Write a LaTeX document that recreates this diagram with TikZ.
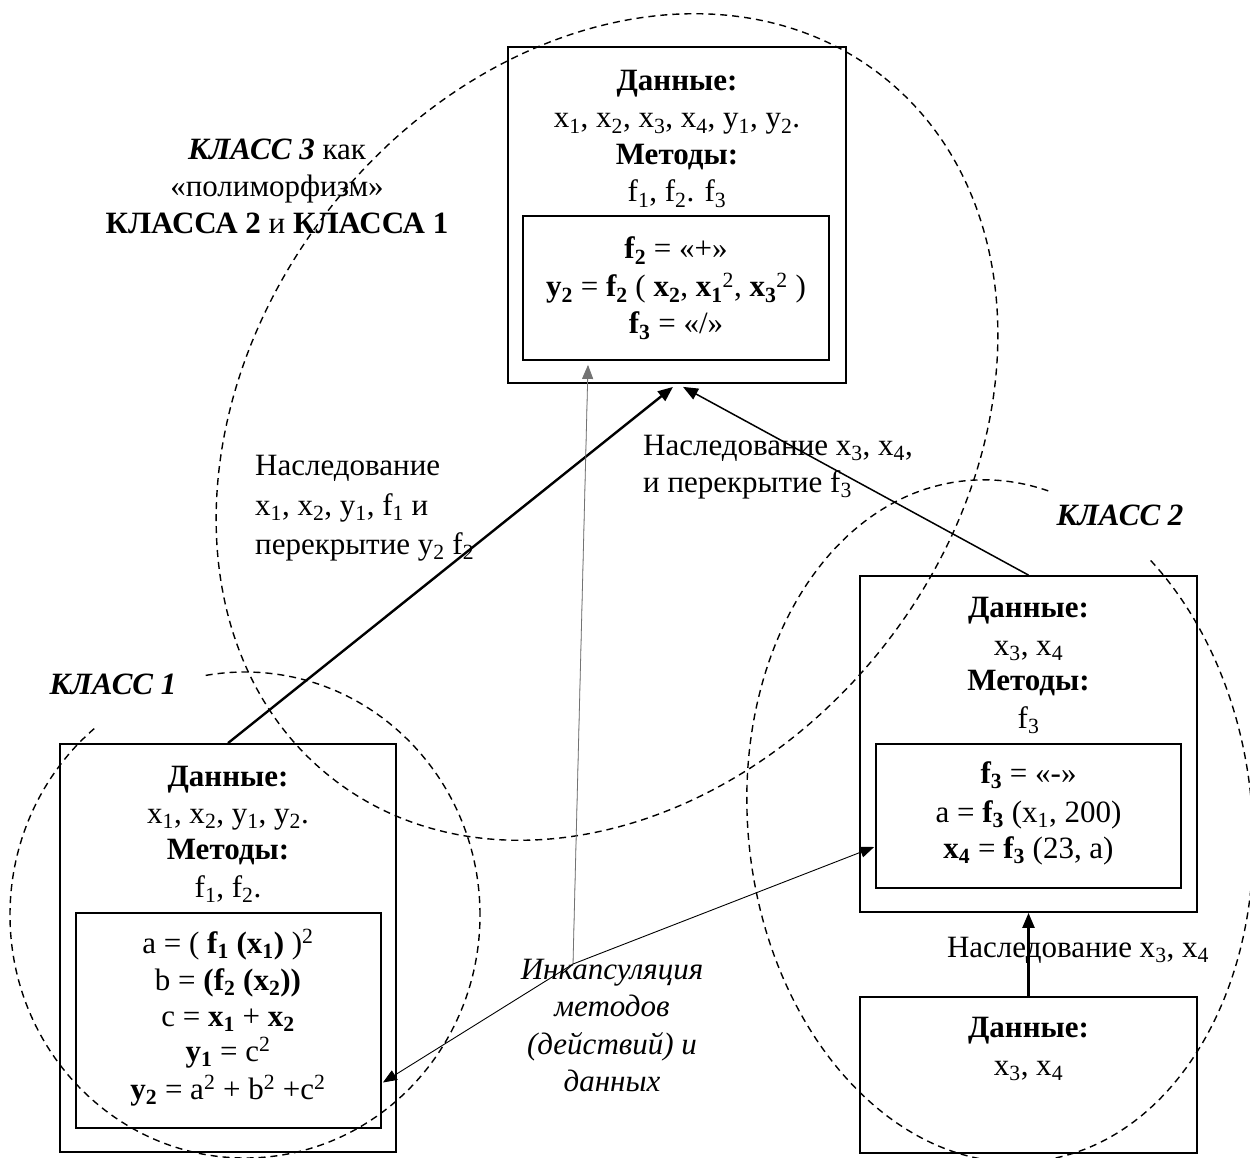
\documentclass[tikz,border=0pt]{standalone}
\usepackage{fontspec}
\setmainfont{Liberation Serif}
\usetikzlibrary{arrows.meta,calc}
\newcommand\mysub[1]{\textsubscript{#1}}
\newcommand\mysup[1]{\textsuperscript{#1}}
\begin{document}
\begin{tikzpicture}[x=1pt,y=-1pt,
  every node/.style={font=\fontsize{31}{37}\selectfont, inner sep=0pt},
  txt/.style={anchor=base},
  ltxt/.style={anchor=base west},
  box/.style={draw, line width=1.8pt, inner sep=0pt},
  cls/.style={dash pattern=on 7pt off 5pt, line width=1.4pt},
  thickarr/.style={line width=2.4pt, -{Triangle[length=15pt,width=12pt]}},
  medarr/.style={line width=1.5pt, -{Triangle[length=15pt,width=12pt]}},
  thinarr/.style={line width=0.9pt, -{Triangle[length=14pt,width=11pt]}},
  grayarr/.style={line width=0.8pt, draw=black!55, -{Triangle[length=14pt,width=11pt]}, fill=black}
]
\useasboundingbox (0,0) rectangle (1250,1158);
\clip (0,0) rectangle (1250,1158);
\fill[white] (0,0) rectangle (1250,1158);

% dashed class ellipses
\draw[cls, shift={(607,427)}, rotate=52] (0,0) ellipse [x radius=446pt, y radius=353pt];
\draw[cls] (245,915) ellipse [x radius=235pt, y radius=243pt];
\draw[cls, shift={(1000,821)}, rotate=6] (0,0) ellipse [x radius=252pt, y radius=342pt];

% white text boxes of class labels
\fill[white] (35,650) rectangle (205,728);
\fill[white] (1050,478) rectangle (1182,560);
\node[txt] (k1) at (113,694) {\textbf{\textit{КЛАСС 1}}};
\node[txt] (k2) at (1120,525) {\textbf{\textit{КЛАСС 2}}};

% class 3 caption
\node[txt] (k3a) at (277,160) {\textbf{\textit{КЛАСС 3}} как};
\node[txt] (k3b) at (277,197) {«полиморфизм»};
\node[txt] (k3c) at (277,234) {\textbf{КЛАССА 2} и \textbf{КЛАССА 1}};

% boxes
\node[box, minimum width=338pt, minimum height=336pt] (top) at (677,215) {};
\node[box, minimum width=306pt, minimum height=144pt] (topin) at (676,288) {};
\node[box, minimum width=336pt, minimum height=408pt] (c1) at (228,948) {};
\node[box, minimum width=305pt, minimum height=215pt] (c1in) at (228.5,1020.5) {};
\node[box, minimum width=337pt, minimum height=336pt] (c2) at (1028.5,744) {};
\node[box, minimum width=305pt, minimum height=144pt] (c2in) at (1028.5,816) {};
\node[box, minimum width=337pt, minimum height=156pt] (c2low) at (1028.5,1075) {};

% top box text
\node[txt] (tA) at (677,91) {\textbf{Данные:}};
\node[txt] (tB) at (677,128) {x\mysub{1}, x\mysub{2}, x\mysub{3}, x\mysub{4}, y\mysub{1}, y\mysub{2}.};
\node[txt] (tC) at (677,165) {\textbf{Методы:}};
\node[txt] (tD) at (677,202) {f\mysub{1}, f\mysub{2}. f\mysub{3}};
\node[txt] (tE) at (676,259) {\textbf{f\mysub{2}} = «+»};
\node[txt] (tF) at (676,297) {\textbf{y\mysub{2}} = \textbf{f\mysub{2}} ( \textbf{x\mysub{2}}, \textbf{x\mysub{1}}\mysup{2}, \textbf{x\mysub{3}}\mysup{2} )};
\node[txt] (tG) at (676,334) {\textbf{f\mysub{3}} = «/»};

% class 1 text
\node[txt] (aA) at (228,786) {\textbf{Данные:}};
\node[txt] (aB) at (228,823) {x\mysub{1}, x\mysub{2}, y\mysub{1}, y\mysub{2}.};
\node[txt] (aC) at (228,859) {\textbf{Методы:}};
\node[txt] (aD) at (228,897) {f\mysub{1}, f\mysub{2}.};
\node[txt] (aE) at (228,953) {a = ( \textbf{f\mysub{1} (x\mysub{1})} )\mysup{2}};
\node[txt] (aF) at (228,990) {b = \textbf{(f\mysub{2} (x\mysub{2}))}};
\node[txt] (aG) at (228,1026) {c = \textbf{x\mysub{1}} + \textbf{x\mysub{2}}};
\node[txt] (aH) at (228,1061) {\textbf{y\mysub{1}} = c\mysup{2}};
\node[txt] (aI) at (228,1099) {\textbf{y\mysub{2}} = a\mysup{2} + b\mysup{2} +c\mysup{2}};

% class 2 text
\node[txt] (bA) at (1028.5,617) {\textbf{Данные:}};
\node[txt] (bB) at (1028.5,655) {x\mysub{3}, x\mysub{4}};
\node[txt] (bC) at (1028.5,690) {\textbf{Методы:}};
\node[txt] (bD) at (1028.5,728) {f\mysub{3}};
\node[txt] (bE) at (1028.5,783) {\textbf{f\mysub{3}} = «-»};
\node[txt] (bF) at (1028.5,822) {a = \textbf{f\mysub{3}} (x\mysub{1}, 200)};
\node[txt] (bG) at (1028.5,858) {\textbf{x\mysub{4}} = \textbf{f\mysub{3}} (23, a)};
\node[txt] (cA) at (1028.5,1037) {\textbf{Данные:}};
\node[txt] (cB) at (1028.5,1075) {x\mysub{3}, x\mysub{4}};

% connector labels
\node[ltxt] (l1a) at (255,475) {Наследование};
\node[ltxt] (l1b) at (255,515) {x\mysub{1}, x\mysub{2}, y\mysub{1}, f\mysub{1} и};
\node[ltxt] (l1c) at (255,554) {перекрытие y\mysub{2} f\mysub{2}};
\node[ltxt] (l2a) at (643,455) {Наследование x\mysub{3}, x\mysub{4},};
\node[ltxt] (l2b) at (643,492) {и перекрытие f\mysub{3}};
\node[txt] (l3) at (1078,957) {Наследование x\mysub{3}, x\mysub{4}};
\node[txt] (e1) at (612,979) {\textit{Инкапсуляция}};
\node[txt] (e2) at (612,1016) {\textit{методов}};
\node[txt] (e3) at (612,1054) {\textit{(действий) и}};
\node[txt] (e4) at (612,1091) {\textit{данных}};

% connectors
\draw[thickarr] (c1.north) -- ($(top.south)+(-4,3)$);
\draw[medarr] (c2.north) -- ($(top.south)+(6,3)$);
\draw[thickarr] (c2low.north) -- (c2.south);
\coordinate (enc) at (573,964);
\draw[grayarr] (enc) -- ($(topin.south)+(-88,4)$);
\draw[thinarr] (enc) -- ($(c1in.east)+(1,62)$);
\draw[thinarr] (enc) -- ($(c2in.west)+(-1,31)$);
\end{tikzpicture}
\end{document}
